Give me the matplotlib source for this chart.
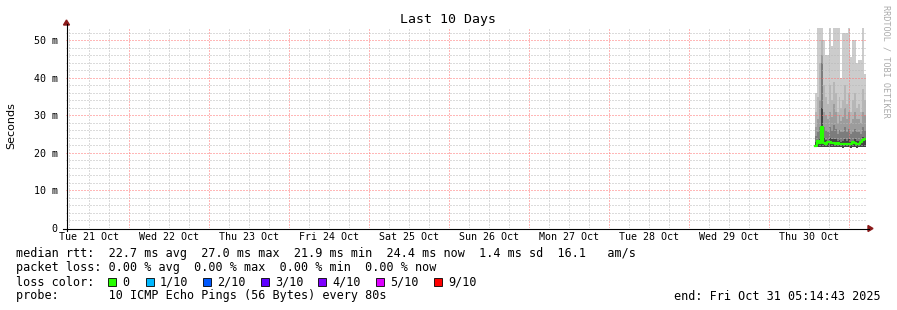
import datetime as dt
import matplotlib
matplotlib.use("Agg")
import matplotlib.pyplot as plt
import matplotlib.dates as mdates
import matplotlib.patches as mpatches
from matplotlib.ticker import MultipleLocator, FuncFormatter
import pandas as pd

# --- data (values in ms) ---
t_start = dt.datetime(2025, 10, 21, 5, 14, 43)
t_end = dt.datetime(2025, 10, 31, 5, 14, 43)
smoke_start = dt.datetime(2025, 10, 30, 14, 0)

ping_min = [21.5, 21.6, 21.7, 21.6, 21.6, 21.5, 21.6, 21.7, 21.6, 21.5, 21.6, 21.6, 21.5,
            21.5, 21.4, 21.5, 21.6, 21.5, 21.4, 21.5, 21.5, 21.4, 21.5, 21.6, 21.7, 21.6]
layer_dark = [22.8, 23.5, 24.0, 32.0, 24.0, 23.5, 23.2, 24.0, 23.8, 23.6, 23.8, 23.2, 23.5,
              23.0, 23.2, 23.6, 23.3, 23.6, 23.0, 23.2, 23.8, 23.2, 23.3, 23.0, 24.2, 24.0]
layer_mid = [24.5, 25.5, 27.0, 44.0, 27.0, 26.0, 25.5, 27.0, 26.0, 27.5, 26.5, 25.0, 26.0,
             25.5, 25.5, 27.0, 25.5, 26.5, 25.0, 25.5, 26.5, 25.5, 25.5, 25.0, 27.0, 26.0]
layer_light = [27.0, 29.0, 34.0, 46.0, 31.0, 30.0, 29.0, 31.0, 29.5, 33.0, 31.0, 28.0, 30.0,
               28.5, 29.5, 32.0, 29.0, 31.0, 28.0, 29.0, 31.0, 29.0, 29.0, 28.0, 31.0, 30.0]
layer_upper = [31.0, 35.0, 44.0, 50.0, 38.0, 35.0, 33.0, 38.0, 34.0, 39.0, 36.0, 31.0, 35.0,
               32.0, 34.0, 38.0, 33.0, 36.0, 31.0, 34.0, 36.0, 32.0, 33.0, 31.0, 37.0, 34.0]
ping_max = [36.0, 53.3, 53.3, 53.3, 50.0, 46.0, 46.0, 53.3, 48.6, 53.3, 53.3, 53.3, 53.3,
            40.0, 52.0, 52.0, 52.0, 53.3, 45.7, 50.0, 50.0, 44.0, 44.8, 44.8, 53.3, 41.0]
median = [21.9, 23.3, 22.6, 27.0, 22.6, 22.4, 23.0, 23.0, 22.6, 22.6, 22.5, 22.6, 22.4,
          22.3, 22.4, 22.4, 22.4, 22.3, 22.5, 23.0, 22.6, 22.4, 22.5, 22.8, 23.4, 23.6]

loss_labels = ["0", "1/10", "2/10", "3/10", "4/10", "5/10", "9/10"]
loss_colors = ["#26ff00", "#00b8ff", "#0059ff", "#5e00ff", "#7e00ff", "#dd00ff", "#ff0000"]

W, H = 897, 310
MONO = "DejaVu Sans Mono"


def fx(x):
    return x / W


def fy(y):
    return 1 - y / H


fig = plt.figure(figsize=(W / 100, H / 100), dpi=100)
fig.patch.set_facecolor("white")
ax = fig.add_axes([fx(66), fy(228), 800 / W, 200 / H])
ax.set_facecolor("white")

# smoke
times = pd.date_range(smoke_start, periods=len(median), freq="35min")
x = mdates.date2num(times.to_pydatetime())
width = 35 / (24 * 60)
layers = [ping_min, layer_dark, layer_mid, layer_light, layer_upper, ping_max]
greys = ["#444444", "#7c7c7c", "#9c9c9c", "#b6b6b6", "#cccccc"]
for lo, hi, c in zip(layers[:-1], layers[1:], greys):
    ax.bar(x, [h - l for h, l in zip(hi, lo)], bottom=lo, width=width,
           align="edge", color=c, linewidth=0, zorder=1)

xs = list(x) + [x[-1] + width]
ax.step(xs, median + [median[-1]], where="post", color="#26ff00", lw=1.6, zorder=4)

ax.set_xlim(mdates.date2num(t_start), mdates.date2num(t_end))
ax.set_ylim(0, 53.33)

# grid
ax.set_axisbelow(False)
ax.xaxis.set_major_locator(mdates.HourLocator(byhour=[12]))
ax.xaxis.set_major_formatter(mdates.DateFormatter("%a %d %b"))
ax.xaxis.set_minor_locator(mdates.HourLocator(byhour=[6, 18]))
ax.yaxis.set_major_locator(MultipleLocator(10))
ax.yaxis.set_minor_locator(MultipleLocator(2))
ax.yaxis.set_major_formatter(FuncFormatter(lambda v, p: "0" if v == 0 else "%d m" % v))
gkw = dict(linestyle=(0, (1, 2)), linewidth=0.72)
grey_grid = "#b8b8b8"
red_grid = "#ff7070"
ax.grid(True, axis="x", which="both", color=grey_grid, zorder=2, **gkw)
ax.grid(True, axis="y", which="minor", color=grey_grid, zorder=2, **gkw)
ax.grid(True, axis="y", which="major", color=red_grid, zorder=2, **gkw)
for d in pd.date_range("2025-10-22", "2025-10-31", freq="D"):
    ax.axvline(mdates.date2num(d.to_pydatetime()), color=red_grid, zorder=2, **gkw)

ax.tick_params(which="both", length=0)
ax.tick_params(axis="x", pad=3, labelsize=7.2)
ax.tick_params(axis="y", pad=6, labelsize=7.2)
for lab in ax.get_xticklabels() + ax.get_yticklabels():
    lab.set_family(MONO)

for s in ["top", "right", "left", "bottom"]:
    ax.spines[s].set_visible(False)

# axis lines with arrow heads
fig.add_artist(plt.Line2D([fx(66.5), fx(66.5)], [fy(231), fy(24)], color="black", lw=0.8))
fig.add_artist(plt.Line2D([fx(63), fx(869)], [fy(228.5), fy(228.5)], color="black", lw=0.8))
fig.add_artist(mpatches.Polygon([[fx(63.5), fy(25)], [fx(69.5), fy(25)], [fx(66.5), fy(20)]],
                                closed=True, color="#8b1a1a"))
fig.add_artist(mpatches.Polygon([[fx(868), fy(225.5)], [fx(868), fy(231.5)], [fx(873), fy(228.5)]],
                                closed=True, color="#8b1a1a"))

# texts
fig.text(fx(448), fy(19), "Last 10 Days", family=MONO, fontsize=9.5, ha="center", va="center")
fig.text(fx(11), fy(126), "Seconds", family="DejaVu Sans", fontsize=8, rotation=90,
         ha="center", va="center")
fig.text(fx(886), fy(5), "RRDTOOL / TOBI OETIKER", family=MONO, fontsize=6.1, rotation=270,
         ha="center", va="top", color="#aaaaaa")

fs = 8.5
fig.text(fx(16), fy(254), "median rtt:  22.7 ms avg  27.0 ms max  21.9 ms min  24.4 ms now  "
         "1.4 ms sd  16.1   am/s", family=MONO, fontsize=fs, va="center")
fig.text(fx(16), fy(268), "packet loss: 0.00 % avg  0.00 % max  0.00 % min  0.00 % now",
         family=MONO, fontsize=fs, va="center")
fig.text(fx(16), fy(282), "loss color:", family=MONO, fontsize=fs, va="center")
box_x = [108, 146, 203, 261, 318, 376, 434]
for bx, lab, col in zip(box_x, loss_labels, loss_colors):
    fig.add_artist(mpatches.Rectangle((fx(bx), fy(286)), 8 / W, 8 / H, facecolor=col,
                                      edgecolor="black", linewidth=0.6))
    fig.text(fx(bx + 14), fy(282), lab, family=MONO, fontsize=fs, va="center")
fig.text(fx(16), fy(296), "probe:       10 ICMP Echo Pings (56 Bytes) every 80s",
         family=MONO, fontsize=fs, va="center")
fig.text(fx(881), fy(296), "end: Fri Oct 31 05:14:43 2025", family=MONO, fontsize=fs,
         va="center", ha="right")

fig.savefig("out.png", dpi=100)
